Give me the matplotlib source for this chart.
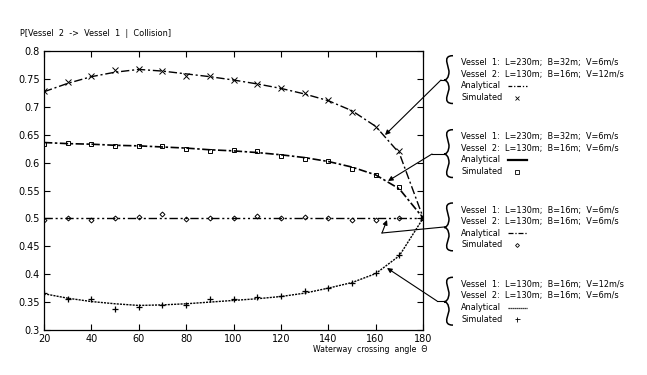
import numpy as np
import matplotlib
matplotlib.use("Agg")
from matplotlib import pyplot as plt
from matplotlib.lines import Line2D
from matplotlib.path import Path
from matplotlib.patches import PathPatch, FancyArrowPatch

plt.rcParams['font.family'] = ['DejaVu Sans']

# crossing angles
angle = [20, 30, 40, 50, 60, 70, 80, 90, 100, 110, 120, 130, 140, 150, 160, 170, 180]

# case 1: V1 L=230 B=32 V=6, V2 L=130 B=16 V=12
ana_1 = [0.727, 0.742, 0.754, 0.762, 0.767, 0.764, 0.759, 0.754, 0.748, 0.741, 0.733,
         0.723, 0.711, 0.693, 0.665, 0.617, 0.502]
sim_1 = [0.729, 0.744, 0.756, 0.766, 0.767, 0.765, 0.756, 0.755, 0.748, 0.741, 0.734,
         0.724, 0.712, 0.691, 0.664, 0.620, 0.502]

# case 2: V1 L=230 B=32 V=6, V2 L=130 B=16 V=6
ana_2 = [0.636, 0.634, 0.633, 0.631, 0.630, 0.628, 0.626, 0.623, 0.621, 0.618, 0.614,
         0.609, 0.602, 0.592, 0.578, 0.553, 0.501]
sim_2 = [0.633, 0.636, 0.634, 0.629, 0.630, 0.630, 0.624, 0.620, 0.623, 0.621, 0.611,
         0.606, 0.602, 0.589, 0.578, 0.556, 0.501]

# case 3: both L=130 B=16 V=6
ana_3 = [0.500] * 17
sim_3 = [0.497, 0.501, 0.497, 0.500, 0.502, 0.507, 0.499, 0.501, 0.500, 0.504, 0.500,
         0.502, 0.501, 0.498, 0.498, 0.500, 0.500]

# case 4: V1 L=130 B=16 V=12, V2 L=130 B=16 V=6
ana_4 = [0.365, 0.357, 0.351, 0.347, 0.344, 0.345, 0.347, 0.350, 0.353, 0.356, 0.360,
         0.366, 0.375, 0.385, 0.401, 0.433, 0.500]
sim_4 = [0.367, 0.355, 0.355, 0.337, 0.342, 0.345, 0.345, 0.356, 0.355, 0.359, 0.361,
         0.370, 0.376, 0.385, 0.402, 0.434, 0.500]

legend_txt = [
    ["Vessel  1:  L=230m;  B=32m;  V=6m/s", "Vessel  2:  L=130m;  B=16m;  V=12m/s"],
    ["Vessel  1:  L=230m;  B=32m;  V=6m/s", "Vessel  2:  L=130m;  B=16m;  V=6m/s"],
    ["Vessel  1:  L=130m;  B=16m;  V=6m/s", "Vessel  2:  L=130m;  B=16m;  V=6m/s"],
    ["Vessel  1:  L=130m;  B=16m;  V=12m/s", "Vessel  2:  L=130m;  B=16m;  V=6m/s"],
]

W, H = 647, 375
fig = plt.figure(figsize=(W / 100, H / 100), dpi=100)
ax = fig.add_axes([44 / W, 1 - 330 / H, (423 - 44) / W, (330 - 51) / H])

styles = [
    dict(ls=(0, (6, 2, 1.5, 2)), lw=1.0, marker='x', ms=4, mew=0.7,
         sample_ls=(0, (3, 1.5, 1, 1.5)), sample_lw=0.9),
    dict(ls=(0, (5, 1.5, 1.5, 1.5)), lw=1.2, marker='s', ms=3, mew=0.7,
         sample_ls='-', sample_lw=1.6),
    dict(ls=(0, (6, 2, 1.5, 2, 1.5, 2)), lw=1.0, marker='D', ms=2.5, mew=0.7,
         sample_ls=(0, (4, 1.5, 1, 1.5)), sample_lw=0.9),
    dict(ls=(0, (1.5, 0.8)), lw=1.0, marker='+', ms=4.5, mew=0.9,
         sample_ls=(0, (1, 0.6)), sample_lw=0.9),
]
ana = [ana_1, ana_2, ana_3, ana_4]
sim = [sim_1, sim_2, sim_3, sim_4]

for a, s, st in zip(ana, sim, styles):
    ax.plot(angle, a, color='k', ls=st['ls'], lw=st['lw'])
    ax.plot(angle, s, ls='none', marker=st['marker'], ms=st['ms'], mfc='none',
            mec='k', mew=st['mew'])

ax.set_xlim(20, 180)
ax.set_ylim(0.3, 0.8)
ax.set_xticks(np.arange(20, 181, 20))
ax.set_yticks(np.arange(0.3, 0.801, 0.05))
ax.set_yticklabels(['0.3', '0.35', '0.4', '0.45', '0.5', '0.55', '0.6', '0.65', '0.7', '0.75', '0.8'])
ax.tick_params(direction='in', top=True, right=True, labelsize=7, length=4, width=0.8, pad=3)
for sp in ax.spines.values():
    sp.set_linewidth(0.9)

fig.text(20 / W, 1 - 33 / H, "P[Vessel  2  ->  Vessel  1  |  Collision]", fontsize=5.9, va='center')
fig.text(427 / W, 1 - 350 / H, "Waterway  crossing  angle  \u0398", fontsize=5.6, ha='right', va='center')


def px(x, y):
    return (x / W, 1 - y / H)


def brace(ytop, ybot, ytip):
    xr, xm, xt = 453, 448, 444
    verts = [px(xr, ytop),
             px(xm - 1, ytop), px(xm - 2, ytop + 3), px(xm - 1, ytop + 7),
             px(xm + 1, ytip - 9),
             px(xm + 1, ytip - 2), px(xt + 2, ytip), px(xt, ytip),
             px(xt + 2, ytip), px(xm + 1, ytip + 2), px(xm + 1, ytip + 9),
             px(xm - 1, ybot - 7),
             px(xm - 2, ybot - 3), px(xm - 1, ybot), px(xr, ybot)]
    codes = [Path.MOVETO,
             Path.CURVE4, Path.CURVE4, Path.CURVE4,
             Path.LINETO,
             Path.CURVE4, Path.CURVE4, Path.CURVE4,
             Path.CURVE4, Path.CURVE4, Path.CURVE4,
             Path.LINETO,
             Path.CURVE4, Path.CURVE4, Path.CURVE4]
    fig.add_artist(PathPatch(Path(verts, codes), fc='none', ec='k', lw=1.1,
                             transform=fig.transFigure))


# legend blocks (top of each block, pixels)
block_top = [62.7, 136.7, 210, 284.3]
dy = 11.6
for i, top in enumerate(block_top):
    st = styles[i]
    lines = legend_txt[i] + ["Analytical", "Simulated"]
    for j, t in enumerate(lines):
        fig.text(461 / W, 1 - (top + j * dy) / H, t, fontsize=5.9, va='center')
    ya = 1 - (top + 2 * dy) / H
    fig.add_artist(Line2D([508 / W, 527 / W], [ya, ya], color='k', ls=st['sample_ls'],
                          lw=st['sample_lw'], transform=fig.transFigure))
    ys = 1 - (top + 3 * dy) / H
    fig.add_artist(Line2D([517 / W], [ys], marker=st['marker'], ms=st['ms'] * 0.8, mfc='none',
                          mec='k', mew=0.6, ls='none', transform=fig.transFigure))
    brace(top - 7, top + 3 * dy + 6, top + 1.5 * dy)

# leader arrows from braces to curves (pixels)
leaders = [
    [(444, 80), (441, 80), (385, 135)],
    [(444, 154), (432, 154), (388, 181)],
    [(444, 227), (382, 233), (387, 220)],
    [(444, 301), (437, 301), (387, 268)],
]
for pts in leaders:
    f = [px(*p) for p in pts]
    fig.add_artist(Line2D([p[0] for p in f[:-1]], [p[1] for p in f[:-1]], color='k', lw=0.8,
                          transform=fig.transFigure))
    fig.add_artist(FancyArrowPatch(
        f[-2], f[-1], transform=fig.transFigure, arrowstyle='-|>', color='k', lw=0.8,
        mutation_scale=7, shrinkA=0, shrinkB=0))

fig.savefig("out.png", dpi=100, facecolor='white')
